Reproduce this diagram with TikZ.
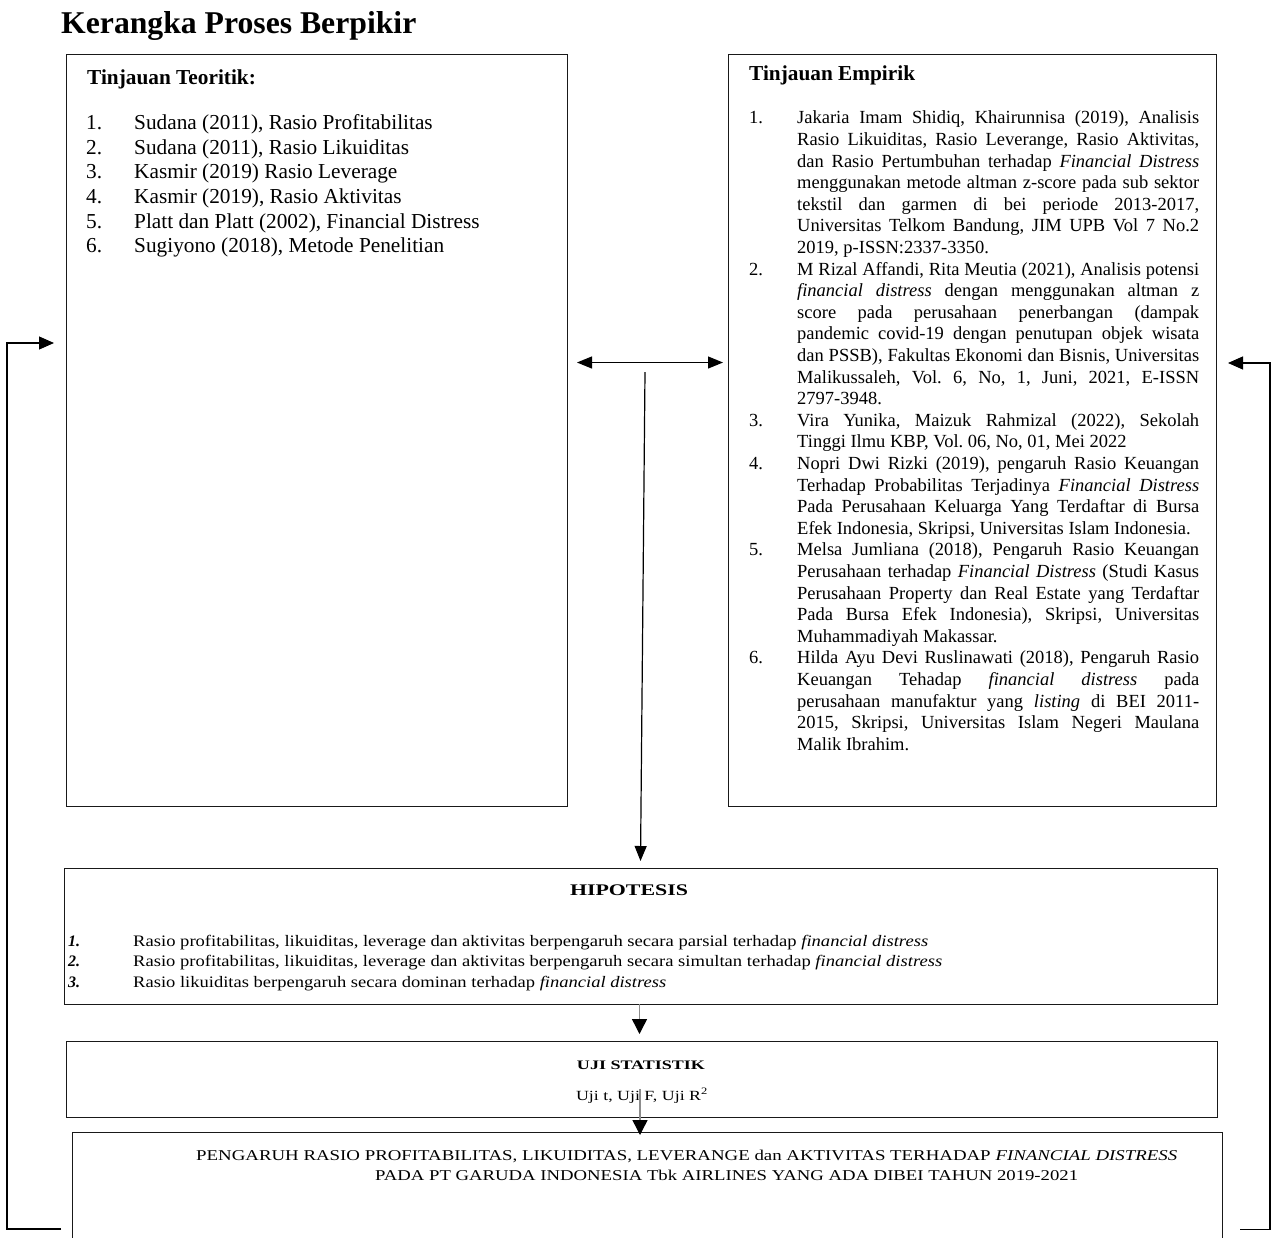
\documentclass[tikz,border=0pt]{standalone}
\usepackage{fontspec}
\setmainfont{Liberation Serif}
\usepackage{graphicx}
\usetikzlibrary{arrows.meta}
\frenchspacing
\newcommand\fs[2]{\fontsize{#1}{#2}\selectfont}
\newcommand\rj[3]{\node[rt] (#1) at (797,#2) {\makebox[402pt][s]{#3}};}
\newcommand\rl[3]{\node[rt] (#1) at (797,#2) {#3};}
\newcommand\rn[3]{\node[rt] (#1) at (749,#2) {#3};}
\tikzset{
  box/.style={draw=black!90, line width=1.4pt, inner sep=0, anchor=north west},
  txt/.style={inner sep=0, anchor=base west},
  lt/.style={txt, font=\fs{21.3}{24.6}},
  rt/.style={txt, font=\fs{18.5}{21.6}},
  ht/.style={txt, font=\fs{16}{20}},
  conn/.style={line width=1.2pt, draw=black},
  gconn/.style={line width=1.4pt, draw=black!45},
  bigtip/.style={-{Triangle[length=15pt,width=15pt,color=black]}},
  fbtip/.style={-{Triangle[length=15pt,width=13pt]}}
}
\begin{document}
\begin{tikzpicture}[x=1pt,y=-1pt]
\useasboundingbox[fill=white] (0,0) rectangle (1277,1237);

% title
\node[txt, font=\fs{31.7}{36}\bfseries] (title) at (61,33.5) {Kerangka Proses Berpikir};

% boxes
\node[box, minimum width=501.5pt, minimum height=752pt] (teo) at (65.5,54) {};
\node[box, minimum width=488pt, minimum height=752pt] (emp) at (728,54) {};
\node[box, minimum width=1153pt, minimum height=136pt] (hyp) at (64,867.5) {};
\node[box, minimum width=1151pt, minimum height=75.5pt] (uji) at (66,1041) {};
\node[box, minimum width=1150pt, minimum height=112pt] (res) at (72,1131.5) {};

% left box
\node[lt, font=\fs{21.3}{24.6}\bfseries] (teoh) at (87,84) {Tinjauan Teoritik:};
\node[lt] (tn1) at (86,129.7) {1.};
\node[lt] (tn2) at (86,154.3) {2.};
\node[lt] (tn3) at (86,178.9) {3.};
\node[lt] (tn4) at (86,203.5) {4.};
\node[lt] (tn5) at (86,228.1) {5.};
\node[lt] (tn6) at (86,252.7) {6.};
\node[lt] (tt1) at (134,129.7) {Sudana (2011), Rasio Profitabilitas};
\node[lt] (tt2) at (134,154.3) {Sudana (2011), Rasio Likuiditas};
\node[lt] (tt3) at (134,178.9) {Kasmir (2019) Rasio Leverage};
\node[lt] (tt4) at (134,203.5) {Kasmir (2019), Rasio Aktivitas};
\node[lt] (tt5) at (134,228.1) {Platt dan Platt (2002), Financial Distress};
\node[lt] (tt6) at (134,252.7) {Sugiyono (2018), Metode Penelitian};

% right box
\node[lt, font=\fs{21.3}{24.6}\bfseries] (emph) at (749,80) {Tinjauan Empirik};
\rn{rn1}{123.9}{1.}
\rn{rn2}{275.1}{2.}
\rn{rn3}{426.3}{3.}
\rn{rn4}{469.5}{4.}
\rn{rn5}{555.9}{5.}
\rn{rn6}{663.9}{6.}
\rj{r0}{123.9}{Jakaria Imam Shidiq, Khairunnisa (2019), Analisis}
\rj{r1}{145.5}{Rasio Likuiditas, Rasio Leverange, Rasio Aktivitas,}
\rj{r2}{167.1}{dan Rasio Pertumbuhan terhadap \textit{Financial Distress}}
\rj{r3}{188.7}{menggunakan metode altman z-score pada sub sektor}
\rj{r4}{210.3}{tekstil dan garmen di bei periode 2013-2017,}
\rj{r5}{231.9}{Universitas Telkom Bandung, JIM UPB Vol 7 No.2}
\rl{r6}{253.5}{2019, p-ISSN:2337-3350.}
\rj{r7}{275.1}{M Rizal Affandi, Rita Meutia (2021), Analisis potensi}
\rj{r8}{296.7}{\textit{financial distress} dengan menggunakan altman z}
\rj{r9}{318.3}{score pada perusahaan penerbangan (dampak}
\rj{r10}{339.9}{pandemic covid-19 dengan penutupan objek wisata}
\rj{r11}{361.5}{dan PSSB), Fakultas Ekonomi dan Bisnis, Universitas}
\rj{r12}{383.1}{Malikussaleh, Vol. 6, No, 1, Juni, 2021, E-ISSN}
\rl{r13}{404.7}{2797-3948.}
\rj{r14}{426.3}{Vira Yunika, Maizuk Rahmizal (2022), Sekolah}
\rl{r15}{447.9}{Tinggi Ilmu KBP, Vol. 06, No, 01, Mei 2022}
\rj{r16}{469.5}{Nopri Dwi Rizki (2019), pengaruh Rasio Keuangan}
\rj{r17}{491.1}{Terhadap Probabilitas Terjadinya \textit{Financial Distress}}
\rj{r18}{512.7}{Pada Perusahaan Keluarga Yang Terdaftar di Bursa}
\rl{r19}{534.3}{Efek Indonesia, Skripsi, Universitas Islam Indonesia.}
\rj{r20}{555.9}{Melsa Jumliana (2018), Pengaruh Rasio Keuangan}
\rj{r21}{577.5}{Perusahaan terhadap \textit{Financial Distress} (Studi Kasus}
\rj{r22}{599.1}{Perusahaan Property dan Real Estate yang Terdaftar}
\rj{r23}{620.7}{Pada Bursa Efek Indonesia), Skripsi, Universitas}
\rl{r24}{642.3}{Muhammadiyah Makassar.}
\rj{r25}{663.9}{Hilda Ayu Devi Ruslinawati (2018), Pengaruh Rasio}
\rj{r26}{685.5}{Keuangan Tehadap \textit{financial distress} pada}
\rj{r27}{707.1}{perusahaan manufaktur yang \textit{listing} di BEI 2011-}
\rj{r28}{728.7}{2015, Skripsi, Universitas Islam Negeri Maulana}
\rl{r29}{750.3}{Malik Ibrahim.}

% hypothesis
\node[ht, anchor=base, font=\fs{16.2}{20}\bfseries] (hyph) at (629,895.5) {\resizebox{118pt}{\height}{HIPOTESIS}};
\node[ht, font=\fs{16}{20}\bfseries\itshape] (hn1) at (68,946) {1.};
\node[ht, font=\fs{16}{20}\bfseries\itshape] (hn2) at (68,966.5) {2.};
\node[ht, font=\fs{16}{20}\bfseries\itshape] (hn3) at (68,987) {3.};
\node[ht] (ht1) at (133,946) {\resizebox{795pt}{\height}{Rasio profitabilitas, likuiditas, leverage dan aktivitas berpengaruh secara parsial terhadap \textit{financial distress}}};
\node[ht] (ht2) at (133,966.5) {\resizebox{809pt}{\height}{Rasio profitabilitas, likuiditas, leverage dan aktivitas berpengaruh secara simultan terhadap \textit{financial distress}}};
\node[ht] (ht3) at (133,987) {\resizebox{533pt}{\height}{Rasio likuiditas berpengaruh secara dominan terhadap \textit{financial distress}}};

% uji statistik
\node[txt, anchor=base, font=\fs{13}{16}\bfseries] (ujih) at (641,1069) {\resizebox{128pt}{\height}{UJI STATISTIK}};
\node[txt, anchor=base, font=\fs{14}{17}] (ujit) at (642,1100) {\resizebox{132pt}{\height}{Uji t, Uji F, Uji R\textsuperscript{2}}};

% result
\node[txt, font=\fs{15}{20}] (res1) at (196,1160) {\resizebox{981pt}{\height}{PENGARUH RASIO PROFITABILITAS, LIKUIDITAS, LEVERANGE dan AKTIVITAS TERHADAP \textit{FINANCIAL DISTRESS}}};
\node[txt, font=\fs{15}{20}] (res2) at (375,1180.5) {\resizebox{703pt}{\height}{PADA PT GARUDA INDONESIA Tbk AIRLINES YANG ADA DIBEI TAHUN 2019-2021}};

% connectors
\coordinate (da1) at (577,362.5);
\coordinate (da2) at (723,362.5);
\draw[conn, {Triangle[length=15pt,width=12pt]}-{Triangle[length=15pt,width=12pt]}] (da1) -- (da2);
\coordinate (v1) at (645,372);
\coordinate (v2) at (640.5,861);
\draw[conn, -{Triangle[length=15pt,width=12pt]}] (v1) -- (v2);

\coordinate (a1) at (639.5,1004);
\coordinate (a2) at (639.5,1034);
\draw[gconn, bigtip] (a1) -- (a2);
\coordinate (b1) at (640,1089);
\coordinate (b2) at (640,1135);
\draw[gconn, bigtip] (b1) -- (b2);

\coordinate (fl0) at (61,1229);
\coordinate (fl1) at (7,1229);
\coordinate (fl2) at (7,343);
\coordinate (fl3) at (54,343);
\draw[conn, fbtip] (fl0) -- (fl1) -- (fl2) -- (fl3);
\coordinate (fr0) at (1240,1229.5);
\coordinate (fr1) at (1270,1229.5);
\coordinate (fr2) at (1270,363);
\coordinate (fr3) at (1228,363);
\draw[conn, fbtip] (fr0) -- (fr1) -- (fr2) -- (fr3);
\end{tikzpicture}
\end{document}
